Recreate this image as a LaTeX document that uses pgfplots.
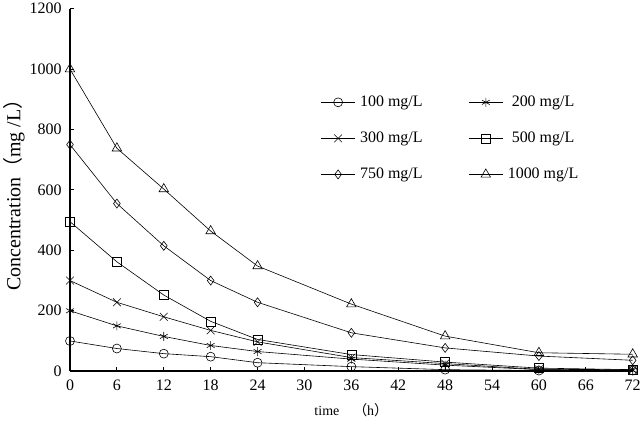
\documentclass[border=0pt]{standalone}
\usepackage{fontspec}
\setmainfont{Liberation Serif}
\newfontfamily\cjk{Noto Sans CJK SC}
\usepackage{pgfplots}
\pgfplotsset{compat=1.18}
\begin{document}
\begin{tikzpicture}
\begin{axis}[
  scale only axis,
  width=562bp, height=362bp,
  xmin=0, xmax=72, ymin=0, ymax=1200,
  xtick={0,6,...,72}, ytick={0,200,...,1200},
  axis x line*=bottom, axis y line*=left,
  axis line style={line width=1.6pt, -},
  tick style={line width=1pt, black},
  tick align=inside,
  major tick length=4pt,
  /pgf/number format/assume math mode=true,
  /pgf/number format/1000 sep={},
  ticklabel style={font=\fontsize{16}{16}\selectfont},
  xticklabel style={yshift=-5pt},
  yticklabel style={xshift=-5pt},
  xlabel={time\quad{\cjk （}h{\cjk ）}},
  xlabel style={font=\fontsize{14}{14}\selectfont, yshift=-6pt},
  ylabel={Concentration{\cjk （}mg /L{\cjk ）}},
  ylabel style={font=\fontsize{20}{20}\selectfont, yshift=-2pt},
  legend columns=2,
  legend style={draw=none, fill=none, at={(0.44,0.77)}, anchor=north west,
    font=\fontsize{16}{16}\selectfont,
    /tikz/every even column/.append style={column sep=44pt},
    row sep=20pt},
  legend image code/.code={\draw[mark repeat=2, mark phase=2, #1] plot coordinates {(0cm,0cm) (0.6cm,0cm) (1.2cm,0cm)};},
  every axis plot/.append style={black, line width=0.6pt, mark size=4.5pt, mark options={solid, fill=white, line width=0.6pt}},
]
\addplot[mark=o] coordinates {(0,100) (6,75) (12,58) (18,48) (24,28) (36,15) (48,5) (60,2) (72,2)};
\addlegendentry{\,100 mg/L}
\addplot[mark=asterisk] coordinates {(0,200) (6,150) (12,115) (18,85) (24,65) (36,40) (48,20) (60,5) (72,3)};
\addlegendentry{\,200 mg/L}
\addplot[mark=x, mark size=5.5pt] coordinates {(0,300) (6,228) (12,180) (18,135) (24,97) (36,45) (48,25) (60,6) (72,5)};
\addlegendentry{\,300 mg/L}
\addplot[mark=square] coordinates {(0,495) (6,362) (12,252) (18,165) (24,105) (36,55) (48,30) (60,10) (72,5)};
\addlegendentry{\,500 mg/L}
\addplot[mark=diamond] coordinates {(0,750) (6,555) (12,415) (18,300) (24,228) (36,127) (48,77) (60,50) (72,36)};
\addlegendentry{\,750 mg/L}
\addplot[mark=triangle, mark size=5.5pt] coordinates {(0,1000) (6,738) (12,603) (18,464) (24,348) (36,222) (48,116) (60,61) (72,56)};
\addlegendentry{\,1000 mg/L}
\end{axis}
\path ([yshift=-68bp]current axis.south west);
\end{tikzpicture}
\end{document}
